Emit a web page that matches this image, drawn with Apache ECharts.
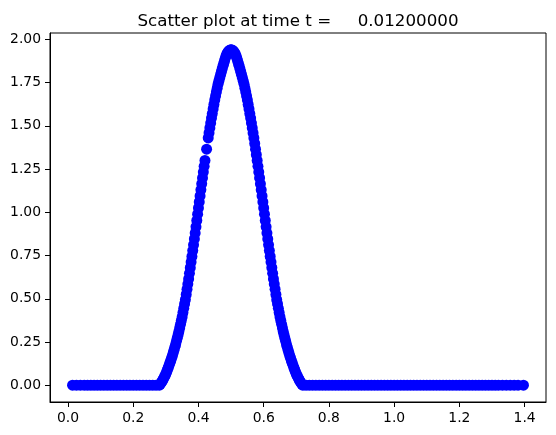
<!DOCTYPE html>
<html>
<head>
<meta charset="utf-8">
<script src="https://cdn.jsdelivr.net/npm/echarts@6/dist/echarts.min.js"></script>
<style>
html,body{margin:0;padding:0;background:#fff;}
#c{width:556px;height:435px;}
</style>
</head>
<body>
<div id="c"></div>
<script>
const titleText = 'Scatter plot at time t =     0.01200000';
const xTicks = [0, 0.2, 0.4, 0.6, 0.8, 1.0, 1.2, 1.4];
const yTicks = [0, 0.25, 0.5, 0.75, 1.0, 1.25, 1.5, 1.75, 2.0];

// flat parts (y = 0)
const flatY = 0;
const flatLeftX = [0.014,0.026,0.038,0.05,0.06,0.07,0.08,0.09,0.1,0.11,0.12,0.13,0.14,0.15,0.16,0.17,0.18,0.19,0.2,0.21,0.22,0.23,0.24,0.25,0.26,0.27];
const flatRightX = [0.73,0.74,0.75,0.76,0.77,0.78,0.79,0.8,0.81,0.82,0.83,0.84,0.85,0.86,0.87,0.88,0.89,0.9,0.91,0.92,0.93,0.94,0.95,0.96,0.97,0.98,0.99,1.0,1.01,1.02,1.03,1.04,1.05,1.06,1.07,1.08,1.09,1.1,1.11,1.12,1.13,1.14,1.15,1.16,1.17,1.18,1.19,1.2,1.21,1.22,1.23,1.24,1.25,1.26,1.27,1.28,1.29,1.3,1.31,1.32,1.332,1.344,1.356,1.368,1.38,1.3965];

// rising branch
const leftX = [
0.28,0.2825,0.285,0.2875,0.29,0.2925,0.295,0.2975,
0.3,0.3025,0.305,0.3075,0.31,0.3125,0.315,0.3175,
0.32,0.3225,0.325,0.3275,0.33,0.3325,0.335,0.3375,
0.34,0.3425,0.345,0.3475,0.35,0.3525,0.355,0.3575,
0.36,0.3625,0.365,0.3675,0.37,0.3725,0.375,0.3775,
0.38,0.3825,0.385,0.3875,0.39,0.3925,0.395,0.3975,
0.4,0.4025,0.405,0.4075,0.41,0.4125,0.415,0.4175,
0.42,0.425,0.43,0.4325,0.435,0.4375,
0.44,0.4425,0.445,0.4475,0.45,0.4525,0.455,0.4575,
0.46,0.4625,0.465,0.4675,0.47,0.4725,0.475,0.4775,
0.48,0.4825,0.485,0.4875,0.49,0.4925,0.495,0.4975,
0.5];
const leftY = [
0.0,0.005,0.012,0.02,0.028,0.037,0.046,0.055,0.065,0.077,
0.09,0.102,0.115,0.129,0.142,0.156,0.17,0.186,0.202,0.219,
0.235,0.254,0.272,0.291,0.31,0.331,0.352,0.374,0.395,0.42,
0.445,0.47,0.495,0.525,0.555,0.585,0.615,0.647,0.68,0.712,
0.745,0.779,0.812,0.846,0.88,0.916,0.953,0.989,1.025,1.06,
1.095,1.13,1.165,1.199,1.233,1.266,1.30,1.365,1.43,1.459,
1.488,1.516,1.545,1.571,1.598,1.624,1.65,1.673,1.696,1.718,
1.74,1.758,1.776,1.793,1.81,1.828,1.845,1.861,1.877,1.892,
1.906,1.917,1.925,1.931,1.936,1.939,1.94];

// falling branch
const rightX = [
0.5025,0.505,0.5075,0.51,0.5125,0.515,0.5175,0.52,
0.5225,0.525,0.5275,0.53,0.5325,0.535,0.5375,0.54,
0.5425,0.545,0.5475,0.55,0.5525,0.555,0.5575,0.56,
0.5625,0.565,0.5675,0.57,0.5725,0.575,0.5775,0.58,
0.5825,0.585,0.5875,0.59,0.5925,0.595,0.5975,0.6,
0.6025,0.605,0.6075,0.61,0.6125,0.615,0.6175,0.62,
0.6225,0.625,0.6275,0.63,0.6325,0.635,0.6375,0.64,
0.6425,0.645,0.6475,0.65,0.6525,0.655,0.6575,0.66,
0.6625,0.665,0.6675,0.67,0.6725,0.675,0.6775,0.68,
0.6825,0.685,0.6875,0.69,0.6925,0.695,0.6975,0.7,
0.7025,0.705,0.7075,0.71,0.7125,0.715,0.7175,0.72];
const rightY = [
1.939,1.936,1.931,1.925,1.917,1.906,1.892,1.877,1.861,1.845,
1.828,1.81,1.793,1.776,1.758,1.74,1.718,1.696,1.673,1.65,
1.624,1.598,1.571,1.545,1.516,1.488,1.459,1.43,1.398,1.365,
1.333,1.30,1.266,1.233,1.199,1.165,1.13,1.095,1.06,1.025,
0.989,0.953,0.916,0.88,0.846,0.812,0.779,0.745,0.712,0.68,
0.647,0.615,0.585,0.555,0.525,0.495,0.47,0.445,0.42,0.395,
0.374,0.352,0.331,0.31,0.291,0.272,0.254,0.235,0.219,0.202,
0.186,0.17,0.156,0.142,0.129,0.115,0.102,0.09,0.077,0.065,
0.055,0.046,0.037,0.028,0.02,0.012,0.005,0.0];

const points = [];
flatLeftX.forEach(x => points.push([x, flatY]));
leftX.forEach((x, i) => points.push([x, leftY[i]]));
rightX.forEach((x, i) => points.push([x, rightY[i]]));
flatRightX.forEach(x => points.push([x, flatY]));

const FONT = 'DejaVu Sans';
const chart = echarts.init(document.getElementById('c'), null, {renderer: 'canvas'});
chart.setOption({
  animation: false,
  backgroundColor: '#ffffff',
  title: {
    text: titleText,
    left: 293,
    textAlign: 'center',
    top: 8,
    textStyle: {fontFamily: FONT, fontSize: 16.7, fontWeight: 'normal', color: '#000'}
  },
  grid: {left: 50, right: 10, top: 33, bottom: 33, show: true, borderColor: '#000', borderWidth: 1, containLabel: false},
  xAxis: {
    type: 'value',
    min: -0.0551, max: 1.4656,
    axisLine: {show: true, onZero: false, lineStyle: {color: '#000', width: 1}},
    axisTick: {show: true, inside: false, length: 5, lineStyle: {color: '#000'}, customValues: xTicks},
    axisLabel: {show: true, margin: 9, fontFamily: FONT, fontSize: 13.9, color: '#000', customValues: xTicks,
      formatter: v => v.toFixed(1)},
    splitLine: {show: false}
  },
  yAxis: {
    type: 'value',
    min: -0.097, max: 2.037,
    axisLine: {show: true, onZero: false, lineStyle: {color: '#000', width: 1}},
    axisTick: {show: true, inside: false, length: 5, lineStyle: {color: '#000'}, customValues: yTicks},
    axisLabel: {show: true, margin: 9, fontFamily: FONT, fontSize: 13.9, color: '#000', customValues: yTicks,
      formatter: v => v.toFixed(2)},
    splitLine: {show: false}
  },
  series: [{
    type: 'scatter',
    data: points,
    symbol: 'circle',
    symbolSize: 11,
    itemStyle: {color: '#0000ff', opacity: 1},
    silent: true
  }]
});
</script>
</body>
</html>
